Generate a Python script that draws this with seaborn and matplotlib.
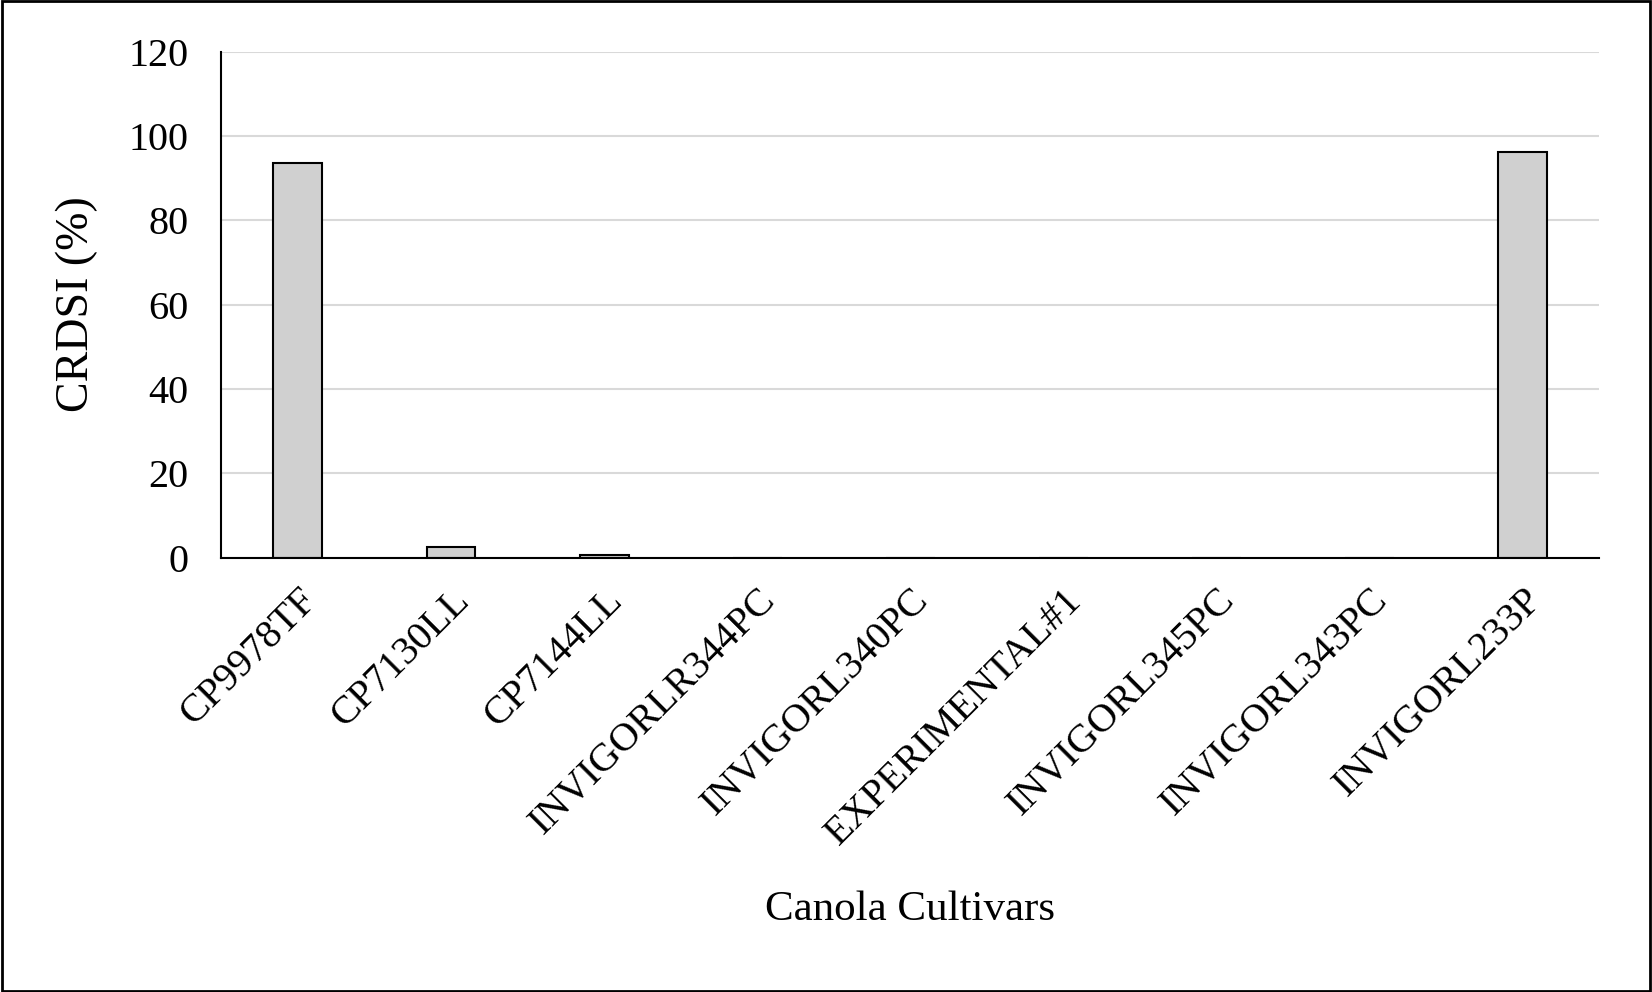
import matplotlib
matplotlib.use("Agg")
import matplotlib.pyplot as plt
import seaborn as sns
import pandas as pd

cultivars = ["CP9978TF", "CP7130LL", "CP7144LL", "INVIGORLR344PC", "INVIGORL340PC",
             "EXPERIMENTAL#1", "INVIGORL345PC", "INVIGORL343PC", "INVIGORL233P"]
crdsi = [93.5, 2.5, 0.7, 0, 0, 0, 0, 0, 96.3]
yticks = [0, 20, 40, 60, 80, 100, 120]

sns.set_style("white")
plt.rcParams['font.family'] = ['Liberation Serif', 'DejaVu Serif']
plt.rcParams['text.color'] = 'black'
plt.rcParams['axes.labelcolor'] = 'black'
plt.rcParams['xtick.color'] = 'black'
plt.rcParams['ytick.color'] = 'black'

df = pd.DataFrame({"cultivar": cultivars, "crdsi": crdsi})
fig = plt.figure(figsize=(16.52, 9.92), dpi=100)
ax = fig.add_axes([0.134, 0.438, 0.834, 0.51])
sns.barplot(data=df, x="cultivar", y="crdsi", color="#d0d0d0", edgecolor="black",
            linewidth=1.5, width=0.32, saturation=1, ax=ax)
ax.set_ylim(0, 120)
ax.set_yticks(yticks)
ax.yaxis.grid(True, color="#d9d9d9", linewidth=1.5)
ax.set_axisbelow(True)
for s in ["top", "right"]:
    ax.spines[s].set_visible(False)
for s in ["left", "bottom"]:
    ax.spines[s].set_color("black")
    ax.spines[s].set_linewidth(1.5)
ax.tick_params(axis="y", labelsize=29, pad=20)
ax.tick_params(axis="x", labelsize=29, pad=14)
plt.setp(ax.get_xticklabels(), rotation=45, ha="right", rotation_mode="anchor")
ax.set_ylabel("CRDSI (%)", fontsize=33, labelpad=22)
ax.set_xlabel("Canola Cultivars", fontsize=31, labelpad=28)
fig.patches.append(plt.Rectangle((0.001, 0.001), 0.998, 0.998, transform=fig.transFigure,
                                 fill=False, edgecolor="black", linewidth=2))
fig.savefig("out.png", dpi=100)
